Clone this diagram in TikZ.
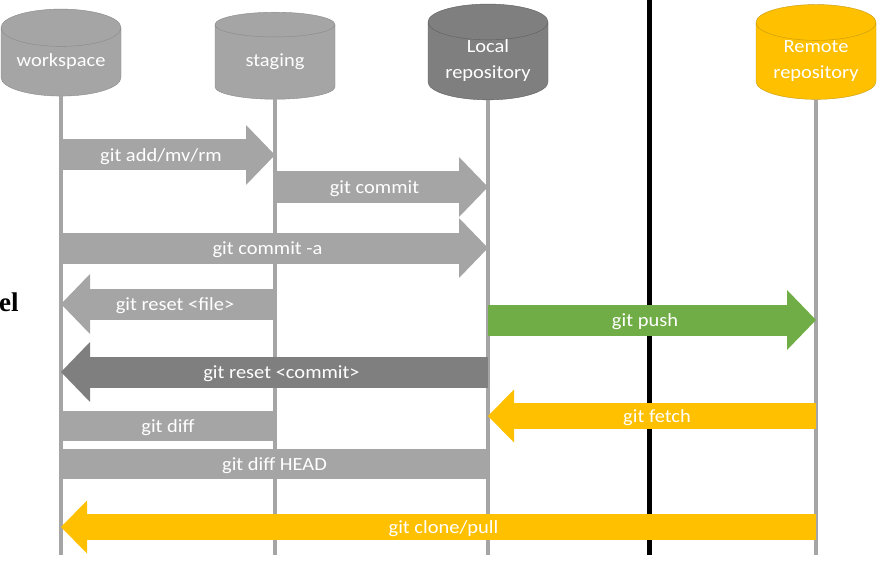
\documentclass[tikz,border=0pt]{standalone}
\usepackage{fontspec}
\setmainfont{Carlito}[FakeStretch=1.1]
\newfontfamily\slidefont{Liberation Serif}
\usetikzlibrary{arrows.meta,calc,positioning,shapes.geometric}
\definecolor{boxgray}{HTML}{A5A5A5}
\definecolor{edgegray}{HTML}{8A8A8A}
\definecolor{repogray}{HTML}{7F7F7F}
\definecolor{repoedge}{HTML}{5E5E5E}
\definecolor{pushgreen}{HTML}{70AD47}
\definecolor{remoteyellow}{HTML}{FFC000}
\definecolor{remoteedge}{HTML}{C49A14}
\tikzset{%
	store/.style    = {draw, cylinder, shape border rotate=90, aspect=0.42, minimum width=120pt, minimum height=87pt, text=white, align=center, font=\fontsize{18.6}{26}\selectfont, inner sep=0pt}, % Repository
	lifeline/.style = {line width=4pt, boxgray},
	divider/.style  = {line width=5pt, black},
	cmd/.style      = {line width=31pt, -{Triangle[width=60pt,length=29pt,line width=0pt]}}, % Block arrow
	slimcmd/.style  = {line width=26pt, -{Triangle[width=53pt,length=26pt,line width=0pt]}},
	bar/.style      = {line width=30pt}, % Block without head
	lbl/.style      = {text=white, font=\fontsize{18.6}{20}\selectfont, inner sep=0pt, yshift=-2pt},
}

\begin{document}
\begin{tikzpicture}[x=1pt,y=-1pt]
	\useasboundingbox (0,0) rectangle (885,564);
	\coordinate (floor) at (0,555);
	\coordinate (ceil) at (0,0);
	
	\node [store, fill=boxgray, draw=edgegray] (ws) at (61,62) {workspace};
	\node [store, fill=boxgray, draw=edgegray] (stg) at (275,62) {staging};
	\node [store, fill=repogray, draw=repoedge] (loc) at (488,61) {Local\\repository};
	\node [store, fill=remoteyellow, draw=remoteedge] (rem) at (816,61) {Remote\\repository};
	\coordinate (wall) at (649,0);
	\node [anchor=base west, inner sep=0pt, font=\slidefont\bfseries\fontsize{27}{30}\selectfont] (title) at (-1,311) {el};
	
	\draw[lifeline] (ws.bottom) -- (ws |- floor);
	\draw[lifeline] (stg.bottom) -- (stg |- floor);
	\draw[lifeline] (loc.bottom) -- (loc |- floor);
	\draw[lifeline] (rem.bottom) -- (rem |- floor);
	\draw[divider] (wall) -- (wall |- floor);
	
	\draw[cmd, boxgray] (ws |- 0,155) -- (stg |- 0,155) node[lbl, midway, xshift=-7pt] {git add/mv/rm};
	\draw[cmd, boxgray] (stg |- 0,187) -- (loc |- 0,187) node[lbl, midway, xshift=-7pt] {git commit};
	\draw[cmd, boxgray] (ws |- 0,248) -- (loc |- 0,248) node[lbl, midway, xshift=-7pt] {git commit -a};
	\draw[cmd, boxgray] (stg |- 0,304) -- (ws |- 0,304) node[lbl, midway, xshift=7pt] {git reset <file>};
	\draw[cmd, repogray] (loc |- 0,372) -- (ws |- 0,372) node[lbl, midway, xshift=7pt] {git reset <commit>};
	\draw[bar, boxgray] (ws |- 0,426) -- (stg |- 0,426) node[lbl, midway] {git diff};
	\draw[bar, boxgray] (ws |- 0,464) -- (loc |- 0,464) node[lbl, midway] {git diff HEAD};
	\draw[cmd, pushgreen] (loc |- 0,320) -- (rem |- 0,320) node[lbl, midway, xshift=-7pt] {git push};
	\draw[slimcmd, remoteyellow] (rem |- 0,416) -- (loc |- 0,416) node[lbl, midway, xshift=5pt] {git fetch};
	\draw[slimcmd, remoteyellow] (rem |- 0,527) -- (ws |- 0,527) node[lbl, midway, xshift=5pt] {git clone/pull};
	
\end{tikzpicture}
\end{document}
